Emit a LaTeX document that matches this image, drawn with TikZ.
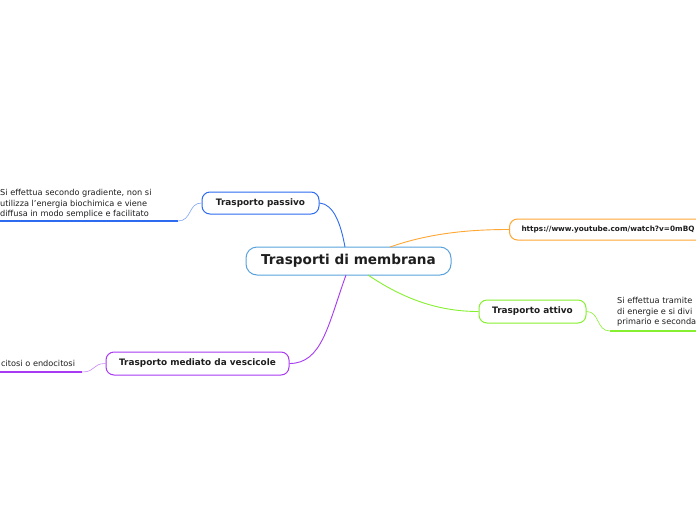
\documentclass[tikz,border=0pt]{standalone}
\usepackage{fontspec}
\setmainfont{DejaVu Sans}
\definecolor{cblue}{HTML}{5AA2DC}
\definecolor{pblue}{HTML}{2D6BF0}
\definecolor{uorange}{HTML}{FFA733}
\definecolor{agreen}{HTML}{86F030}
\definecolor{vpurple}{HTML}{A73AF2}
\definecolor{txt}{HTML}{1E1E1E}
\tikzset{
  topic/.style={draw, rounded corners=8pt, fill=white, line width=1pt, text=txt, font=\bfseries\fontsize{8.9}{10}\selectfont, inner sep=0pt},
  note/.style={align=left, inner sep=0pt, text=txt, font=\fontsize{8.2}{10.6}\selectfont},
  link/.style={line width=0.9pt},
  under/.style={line width=1.8pt},
}
\begin{document}
\begin{tikzpicture}[x=1pt,y=-1pt]
\useasboundingbox (0,0) rectangle (696,520);
\clip (0,0) rectangle (696,520);
\fill[white] (0,0) rectangle (696,520);

% main node
\node[topic, draw=cblue, rounded corners=11pt, minimum width=205pt, minimum height=28pt, font=\bfseries\fontsize{13.6}{15}\selectfont] (c) at (348.5,261) {Trasporti di membrana};

% topics
\node[topic, draw=pblue, minimum width=117pt, minimum height=22pt] (pas) at (260.5,203) {Trasporto passivo};
\node[topic, draw=uorange, anchor=west, minimum height=21pt, text width=206pt, inner xsep=12pt, align=left, font=\bfseries\fontsize{7.3}{9}\selectfont] (url) at (509,229.5) {https://www.youtube.com/watch?v=0mBQ};
\node[topic, draw=agreen, minimum width=107pt, minimum height=23pt] (att) at (532.5,311.5) {Trasporto attivo};
\node[topic, draw=vpurple, minimum width=183pt, minimum height=23pt] (ves) at (197.5,363.5) {Trasporto mediato da vescicole};

% start points on central node
\coordinate (c1) at (345,247);
\coordinate (c2) at (390,247);
\coordinate (c3) at (368,275);
\coordinate (c4) at (346,275);

\draw[link, pblue] (c1) .. controls (341,225) and (334,204) .. (pas.east);
\draw[link, uorange] (c2) .. controls (430,233) and (470,229.5) .. (url.west);
\draw[link, agreen] (c3) .. controls (405,300) and (440,311.5) .. (att.west);
\draw[link, vpurple] (c4) .. controls (328,325) and (322,363.5) .. (ves.east);

% passive note
\node[note, anchor=north west] (pnote) at (0,189) {Si effettua secondo gradiente, non si\\utilizza l'energia biochimica e viene\\diffusa in modo semplice e facilitato};
\coordinate (pu1) at (0,221);
\coordinate (pu2) at (178,221);
\draw[under, pblue] (pu1) -- (pu2);
\draw[line width=0.6pt, pblue!60] (pu2) .. controls (192,221) and (188,203) .. (pas.west);

% active note
\node[note, anchor=north west] (anote) at (617,297) {Si effettua tramite\\di energie e si divi\\primario e seconda};
\coordinate (au1) at (610,331);
\coordinate (au2) at (700,331);
\draw[under, agreen] (au1) -- (au2);
\draw[line width=0.6pt, agreen] (att.east) .. controls (600,311.5) and (596,331) .. (au1);

% vesicle note
\node[note, anchor=north west] (vnote) at (1,360) {citosi o endocitosi};
\coordinate (vu1) at (0,372);
\coordinate (vu2) at (82,372);
\draw[under, vpurple] (vu1) -- (vu2);
\draw[line width=0.6pt, vpurple!60] (vu2) .. controls (96,372) and (92,363.5) .. (ves.west);
\end{tikzpicture}
\end{document}
